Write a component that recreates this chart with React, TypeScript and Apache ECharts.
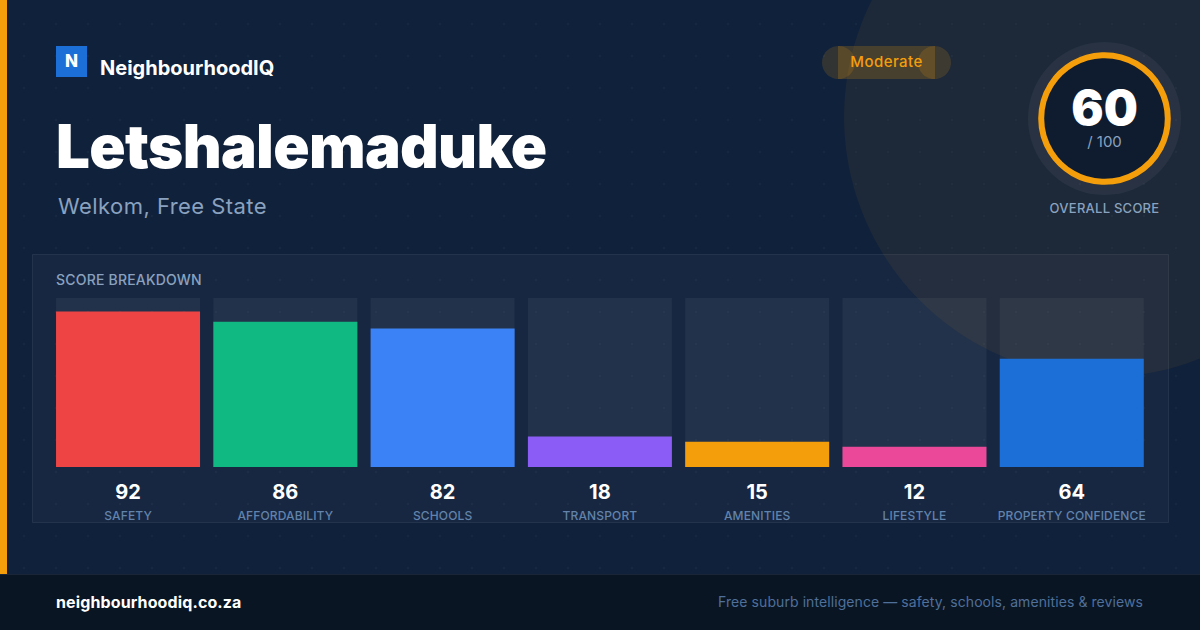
import { useEffect, useRef } from "react";
import * as echarts from "echarts";

const categories = ["SAFETY", "AFFORDABILITY", "SCHOOLS", "TRANSPORT", "AMENITIES", "LIFESTYLE", "PROPERTY CONFIDENCE"];
const scores = [92, 86, 82, 18, 15, 12, 64];
const barColors = ["#ef4444", "#10b981", "#3b82f6", "#8b5cf6", "#f59e0b", "#ec4899", "#1d6fd8"];
const maxScore = 100;
const overallScore = 60;

const FONT = "Inter, sans-serif";
const MUTED = "#8aa2bf";
const AMBER = "#f59e0b";

// letter spacing is not an ECharts text option, so it goes on the svg nodes afterwards
const spacedTexts: Record<string, string> = {
  "Letshalemaduke": "-0.65px",
  "Welkom, Free State": "0.45px",
  "Moderate": "0.45px",
  "SCORE BREAKDOWN": "0.2px",
  "OVERALL SCORE": "0.25px",
  "neighbourhoodiq.co.za": "0.12px",
  "Free suburb intelligence — safety, schools, amenities & reviews": "0.08px",
};
categories.forEach((c) => (spacedTexts[c] = "0.15px"));

// y is the baseline; ECharts only aligns top/middle/bottom
const label = (text: string, x: number, y: number, fontSize: number, fontWeight: number, fill: string, textAlign = "left") => ({
  type: "text",
  z: 5,
  x,
  y: y - fontSize * 0.86,
  style: { text, fontSize, fontWeight, fill, fontFamily: FONT, textAlign, textVerticalAlign: "top" },
});

export default function App() {
  const chartRef = useRef<HTMLDivElement>(null);

  useEffect(() => {
    if (!chartRef.current) return;
    const chart = echarts.init(chartRef.current, null, { renderer: "svg" });

    chart.setOption({
      animation: false,
      backgroundColor: "transparent",
      grid: { left: 49.4, width: 1101, top: 298, height: 169 },
      xAxis: {
        type: "category",
        data: categories,
        axisLine: { show: false },
        axisTick: { show: false },
        axisLabel: {
          interval: 0,
          margin: 11,
          hideOverlap: false,
          formatter: (name: string, i: number) => `{v|${scores[i]}}\n{n|${name}}`,
          rich: {
            v: { fontFamily: FONT, fontSize: 20, fontWeight: 700, color: "#ffffff", lineHeight: 28 },
            n: { fontFamily: FONT, fontSize: 12, fontWeight: 500, color: "#6283ab", lineHeight: 18 },
          },
        },
      },
      yAxis: { type: "value", min: 0, max: maxScore, show: false },
      series: [
        {
          type: "bar",
          data: categories.map(() => maxScore),
          barWidth: 144,
          barGap: "-100%",
          itemStyle: { color: "rgba(255,255,255,0.05)" },
          silent: true,
        },
        {
          type: "bar",
          data: scores.map((value, i) => ({ value, itemStyle: { color: barColors[i] } })),
          barWidth: 144,
        },
      ],
      graphic: [
        // decorative circle top right
        { type: "circle", z: 0, shape: { cx: 1104, cy: 117, r: 260 }, style: { fill: "rgba(245,158,11,0.06)" } },
        // left accent + footer
        { type: "rect", z: 1, shape: { x: 0, y: 0, width: 7, height: 574 }, style: { fill: AMBER } },
        { type: "rect", z: 1, shape: { x: 0, y: 574, width: 1200, height: 56 }, style: { fill: "#0a1524" } },
        { type: "rect", z: 1, shape: { x: 0, y: 574, width: 1200, height: 1 }, style: { fill: "#1a2638" } },
        // logo
        { type: "rect", z: 2, shape: { x: 56, y: 46, width: 31, height: 31 }, style: { fill: "#1d6fd8" } },
        label("N", 71.5, 67, 17, 800, "#ffffff", "center"),
        label("NeighbourhoodIQ", 100, 75, 20, 700, "#ffffff"),
        // title
        label("Letshalemaduke", 56, 168, 60, 900, "#ffffff"),
        label("Welkom, Free State", 58, 214, 22, 400, MUTED),
        // rating pill
        { type: "rect", z: 2, shape: { x: 838, y: 46, width: 97, height: 33 }, style: { fill: "rgba(245,158,11,0.2)" } },
        { type: "circle", z: 2, shape: { cx: 838.5, cy: 62.5, r: 16.5 }, style: { fill: "rgba(245,158,11,0.15)" } },
        { type: "circle", z: 2, shape: { cx: 934.5, cy: 62.5, r: 16.5 }, style: { fill: "rgba(245,158,11,0.15)" } },
        label("Moderate", 886.5, 67, 15, 500, AMBER, "center"),
        // overall score ring
        { type: "circle", z: 2, shape: { cx: 1104.5, cy: 118.5, r: 76.5 }, style: { fill: "rgba(255,255,255,0.05)" } },
        { type: "circle", z: 2, shape: { cx: 1104.5, cy: 118.5, r: 63.3 }, style: { fill: "#0f1c2f", stroke: AMBER, lineWidth: 6 } },
        label(String(overallScore), 1104.5, 125, 48, 900, "#ffffff", "center"),
        label("/ 100", 1104.5, 147, 15, 400, MUTED, "center"),
        label("OVERALL SCORE", 1104.5, 213, 13, 500, MUTED, "center"),
        // breakdown panel
        {
          type: "rect",
          z: 0,
          shape: { x: 32.5, y: 254.5, width: 1136, height: 268 },
          style: { fill: "rgba(255,255,255,0.03)", stroke: "rgba(255,255,255,0.07)", lineWidth: 1 },
        },
        label("SCORE BREAKDOWN", 56, 285, 14, 500, MUTED),
        // footer texts
        label("neighbourhoodiq.co.za", 56, 608, 16, 700, "#ffffff"),
        label("Free suburb intelligence — safety, schools, amenities & reviews", 1143, 607, 14, 400, "#4f709a", "right"),
      ],
    });

    chartRef.current.querySelectorAll("text").forEach((node) => {
      const spacing = spacedTexts[node.textContent || ""];
      if (spacing) node.style.letterSpacing = spacing;
    });

    return () => chart.dispose();
  }, []);

  return (
    <div
      ref={chartRef}
      style={{
        position: "fixed",
        left: 0,
        top: 0,
        width: 1200,
        height: 630,
        backgroundColor: "#10213b",
        backgroundImage: "radial-gradient(circle, rgba(255,255,255,0.03) 1px, transparent 1px)",
        backgroundSize: "32px 32px",
        backgroundPosition: "8px 8px",
      }}
    />
  );
}
